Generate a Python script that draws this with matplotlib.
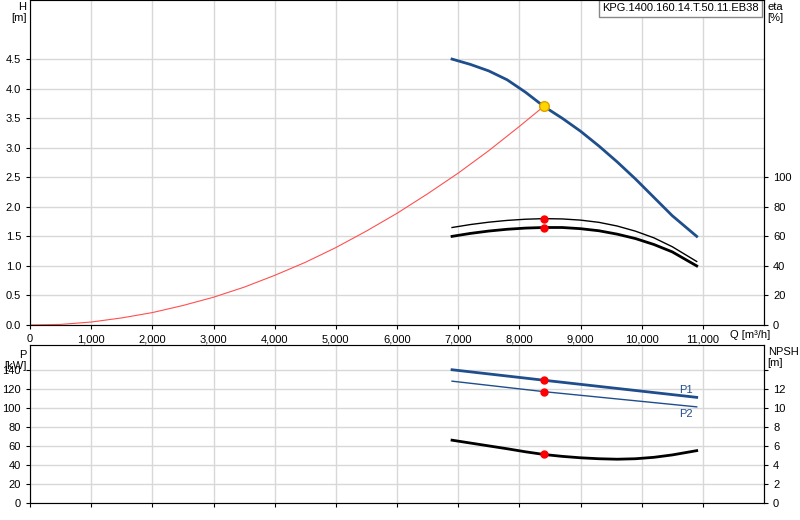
import matplotlib
matplotlib.use("Agg")
import matplotlib.pyplot as plt
import numpy as np
from matplotlib.ticker import FuncFormatter

plt.rcParams['font.family'] = ['Liberation Sans', 'DejaVu Sans']
plt.rcParams['font.size'] = 8

q_h = [6900, 7200, 7500, 7800, 8100, 8400, 8700, 9000, 9300, 9600, 9900, 10200, 10500, 10900]
h_vals = [4.5, 4.41, 4.3, 4.15, 3.94, 3.7, 3.5, 3.28, 3.03, 2.76, 2.47, 2.16, 1.85, 1.5]
q_sys = [0, 500, 1000, 1500, 2000, 2500, 3000, 3500, 4000, 4500, 5000, 5500, 6000, 6500, 7000, 7500, 8000, 8400]
h_sys = [0, 0.01, 0.05, 0.12, 0.21, 0.33, 0.47, 0.64, 0.84, 1.06, 1.31, 1.59, 1.89, 2.22, 2.57, 2.95, 3.36, 3.7]
q_eta = [6900, 7200, 7500, 7800, 8100, 8400, 8700, 9000, 9300, 9600, 9900, 10200, 10500, 10900]
eta1 = [66, 68, 69.6, 70.8, 71.6, 72, 71.8, 71, 69.5, 67, 63.5, 59, 53, 43]
eta2 = [60, 62, 63.6, 64.8, 65.6, 66, 66, 65.2, 63.8, 61.5, 58.5, 54.5, 49.5, 40]
q_p = [6900, 8400, 10900]
p1 = [140, 129, 111]
p2 = [128, 117, 101]
q_npsh = [6900, 7200, 7500, 7800, 8100, 8400, 8700, 9000, 9300, 9600, 9900, 10200, 10500, 10900]
npsh = [6.6, 6.3, 6.0, 5.7, 5.38, 5.1, 4.9, 4.75, 4.65, 4.6, 4.65, 4.8, 5.05, 5.5]
q_op = 8400
h_op = 3.7
title = "KPG.1400.160.14.T.50.11.EB38"

fig = plt.figure(figsize=(8, 5.2), dpi=100)
ax1 = fig.add_axes([30/800, 1-325/520, 734/800, 325/520])
ax2 = fig.add_axes([30/800, 1-503/520, 734/800, 158/520])

fmt = FuncFormatter(lambda v, p: f"{int(v):,}")
blue = '#1f4e8c'
for ax in (ax1, ax2):
    ax.set_xlim(0, 12000)
    ax.set_xticks(range(0, 12000, 1000))
    ax.grid(True, color='#d8d8d8', lw=1)
    ax.set_axisbelow(True)
    for s in ax.spines.values():
        s.set_color('#888888')
    ax.tick_params(length=3, colors='black', labelsize=8)

ax1.xaxis.set_major_formatter(fmt)
ax1.set_ylim(0, 5.5)
ax1.set_yticks(np.arange(0, 5.0, 0.5))
ax1.yaxis.set_major_formatter(FuncFormatter(lambda v, p: f"{v:.1f}"))
ax1.spines['right'].set_color('black')
ax1.plot(q_h, h_vals, color=blue, lw=2)
ax1.plot(q_sys, h_sys, color='#ff5050', lw=0.8)
ax1e = ax1.twinx()
ax1e.set_ylim(0, 5.5 * 40)
ax1e.set_yticks(range(0, 101, 20))
ax1e.tick_params(length=3, labelsize=8)
ax1e.plot(q_eta, eta1, color='black', lw=1)
ax1e.plot(q_eta, eta2, color='black', lw=2)
ax1e.plot([q_op, q_op], [72, 66], 'o', color='red', ms=5)
ax1.plot([q_op], [h_op], 'o', color='#ffd700', mec='#e0a000', ms=7, zorder=5)
ax1.text(-0.005, 0.995, "H\n[m]", transform=ax1.transAxes, ha='right', va='top', fontsize=8)
ax1.text(1.005, 0.995, "eta\n[%]", transform=ax1.transAxes, ha='left', va='top', fontsize=8)
ax1.text(0.993, 0.99, title, transform=ax1.transAxes, ha='right', va='top', fontsize=8,
         bbox=dict(boxstyle='square,pad=0.3', fc='white', ec='#888888'))
ax1.text(11440, -0.09, "Q [m³/h]", ha='left', va='top', fontsize=8, clip_on=False)

ax2.set_xticklabels([])
ax2.set_ylim(0, 166)
ax2.set_yticks(range(0, 141, 20))
ax2.spines['right'].set_color('black')
ax2.plot(q_p, p1, color=blue, lw=2)
ax2.plot(q_p, p2, color=blue, lw=1)
ax2.plot([q_op, q_op], [129, 117], 'o', color='red', ms=5)
ax2.text(10900 - 60, 113, "P1", color=blue, ha='right', va='bottom')
ax2.text(10900 - 60, 99, "P2", color=blue, ha='right', va='top')
ax2n = ax2.twinx()
ax2n.set_ylim(0, 16.6)
ax2n.set_yticks(range(0, 15, 2))
ax2n.set_yticklabels([str(v) if v < 14 else '' for v in range(0, 15, 2)])
ax2n.tick_params(length=3, labelsize=8)
ax2n.plot(q_npsh, npsh, color='black', lw=2)
ax2n.plot([q_op], [5.1], 'o', color='red', ms=5)
ax2.text(-0.005, 0.97, "P\n[kW]", transform=ax2.transAxes, ha='right', va='top', fontsize=8,
         linespacing=1.1)
ax2.text(1.005, 0.99, "NPSH\n[m]", transform=ax2.transAxes, ha='left', va='top', fontsize=8)

fig.savefig("out.png", dpi=100)
